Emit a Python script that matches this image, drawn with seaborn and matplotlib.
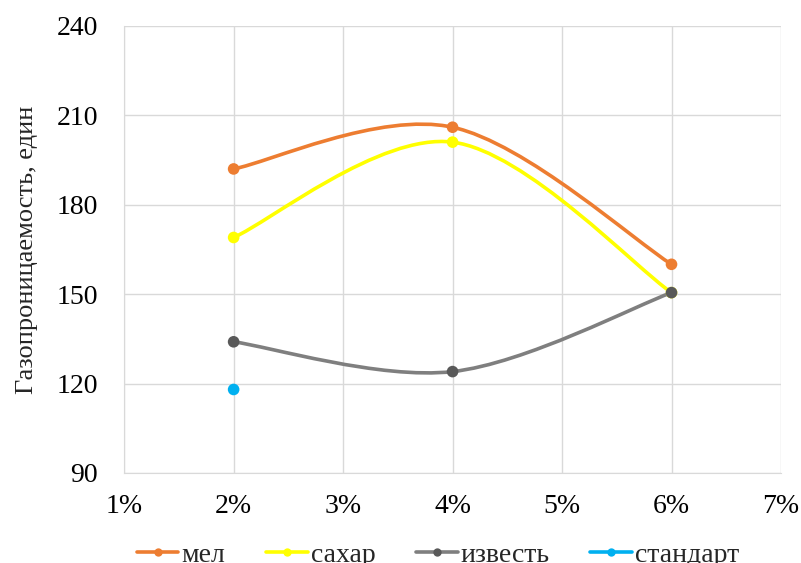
import numpy as np
import pandas as pd
import matplotlib
matplotlib.use('Agg')
import matplotlib.pyplot as plt
from matplotlib.path import Path
from matplotlib.patches import PathPatch
from matplotlib.lines import Line2D
import seaborn as sns

# ── data ──
conc = [2, 4, 6]                      # %
mel = [192, 206, 160]
sahar = [169, 201, 150.5]
izvest = [134, 124, 150.5]
standart_x = [2]
standart_y = [118]

names = ['мел', 'сахар', 'известь', 'стандарт']
line_colors = ['#ED7D31', '#FFFF00', '#7F7F7F', '#00B0F0']
marker_colors = ['#ED7D31', '#FFFF00', '#595959', '#00B0F0']

sns.set_style('white')
plt.rcParams['font.family'] = ['Liberation Serif', 'DejaVu Serif']
FS = 20

fig = plt.figure(figsize=(8.01, 5.63), dpi=100)
ax = fig.add_axes([0.155, 0.160, 0.820, 0.794])


def smooth_path(xs, ys, t=1/6):
    # Excel-like smoothed line drawn as cubic bezier segments
    pts = np.column_stack([xs, ys]).astype(float)
    n = len(pts)
    verts = [pts[0]]
    codes = [Path.MOVETO]
    for i in range(n - 1):
        p0 = pts[i - 1] if i > 0 else pts[i]
        p1, p2 = pts[i], pts[i + 1]
        p3 = pts[i + 2] if i + 2 < n else pts[i + 1]
        c1 = p1 + (p2 - p0) * t
        c2 = p2 - (p3 - p1) * t
        verts += [c1, c2, p2]
        codes += [Path.CURVE4] * 3
    return Path(verts, codes)


series = [mel, sahar, izvest]
for ys, lc in zip(series, line_colors[:3]):
    ax.add_patch(PathPatch(smooth_path(conc, ys), facecolor='none',
                           edgecolor=lc, lw=2.6, zorder=3,
                           capstyle='round'))

df = pd.concat([
    pd.DataFrame({'x': conc, 'y': mel, 's': 'мел'}),
    pd.DataFrame({'x': conc, 'y': sahar, 's': 'сахар'}),
    pd.DataFrame({'x': conc, 'y': izvest, 's': 'известь'}),
    pd.DataFrame({'x': standart_x, 'y': standart_y, 's': 'стандарт'}),
])
sns.scatterplot(data=df, x='x', y='y', hue='s', hue_order=names,
                palette=marker_colors, s=70, linewidth=0, ax=ax,
                zorder=4, legend=False)

ax.set_xlim(1, 7)
ax.set_ylim(90, 240)
ax.set_xticks(range(1, 8))
ax.set_xticklabels([f'{i}%' for i in range(1, 8)])
ax.set_yticks(range(90, 241, 30))
ax.grid(True, color='#D9D9D9', lw=1)
for s in ['top', 'right']:
    ax.spines[s].set_visible(False)
ax.spines['left'].set_color('#D9D9D9')
ax.spines['bottom'].set_color('#D9D9D9')
ax.tick_params(axis='both', length=0, labelsize=FS, colors='#000000')
ax.tick_params(axis='x', pad=15)
ax.tick_params(axis='y', pad=19)
ax.set_xlabel('')
ax.set_ylabel('Газопроницаемость, един', fontsize=19, labelpad=13)

handles = [Line2D([0], [0], color=lc, lw=2.6, marker='o', markersize=6,
                  markerfacecolor=mc, markeredgewidth=0, label=n)
           for n, lc, mc in zip(names, line_colors, marker_colors)]
fig.legend(handles=handles, loc='center', bbox_to_anchor=(0.547, 0.014),
           ncol=4, frameon=False, fontsize=FS, handlelength=1.5,
           handletextpad=0.12, columnspacing=1.45, borderpad=0)

fig.savefig('out.png', dpi=100)
